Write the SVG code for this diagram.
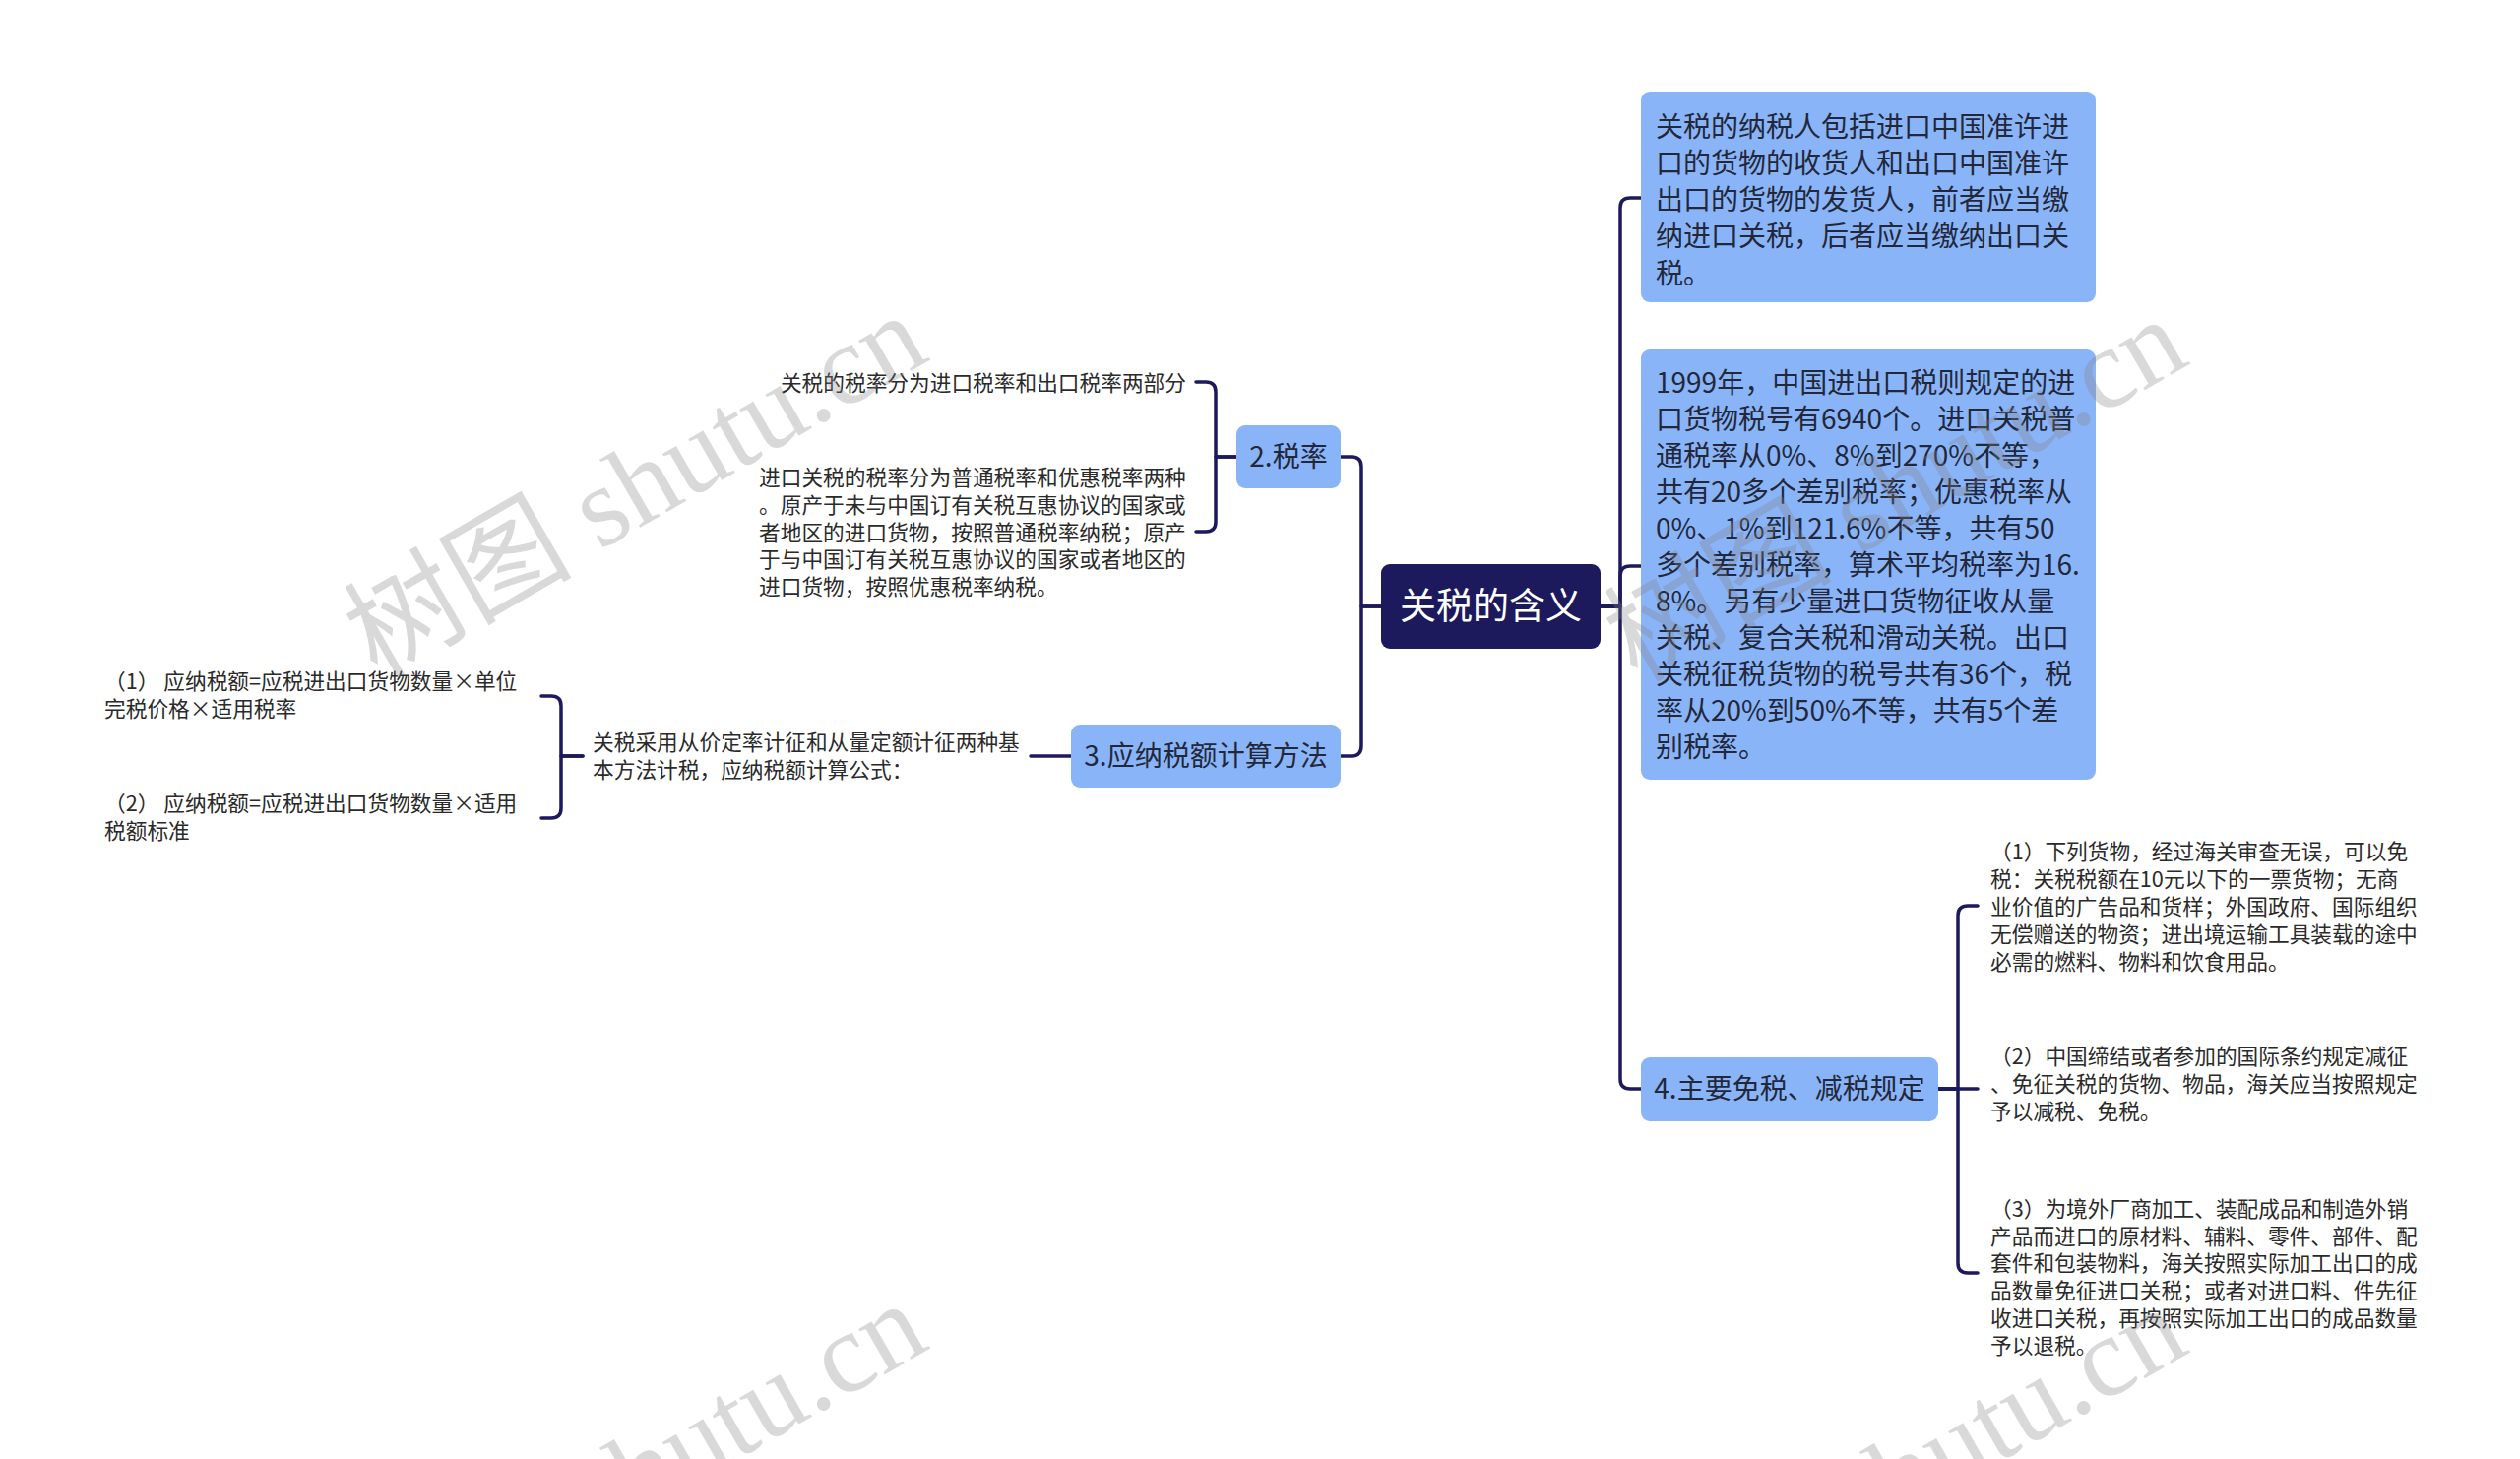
<svg xmlns="http://www.w3.org/2000/svg" width="2560" height="1482" viewBox="0 0 2560 1482">
<style>
.conn{fill:none;stroke:#1c1a5c;stroke-width:3.5;stroke-linecap:round;stroke-linejoin:round}
.box{fill:#8ab4f8}
.root{fill:#1c1a5c}
.t28{font-family:"Noto Sans CJK SC","Noto Sans",sans-serif;font-size:28px;fill:#22283a}
.t37{font-family:"Noto Sans CJK SC","Noto Sans",sans-serif;font-size:37px;fill:#ffffff}
.leaf{font-family:"Noto Sans CJK SC","Noto Sans",sans-serif;font-size:21.7px;fill:#2a2a2a}
.wm{font-family:"Liberation Serif","Noto Sans CJK SC",serif;font-size:116px;fill:#808080;fill-opacity:0.3}
</style>
<rect width="2560" height="1482" fill="#ffffff"/>
<g id="connectors">
<path class="conn" d="M1626,616 H1646 V211 Q1646,201 1656,201 H1667"/>
<path class="conn" d="M1626,616 H1646 V585 Q1646,575 1656,575 H1667"/>
<path class="conn" d="M1626,616 H1646 V1096 Q1646,1106 1656,1106 H1667"/>
<path class="conn" d="M1403,616 H1383 V474 Q1383,464 1373,464 H1362"/>
<path class="conn" d="M1403,616 H1383 V758 Q1383,768 1373,768 H1362"/>
<path class="conn" d="M1256,464 H1235 V398 Q1235,388 1225,388 H1215"/>
<path class="conn" d="M1256,464 H1235 V530 Q1235,540 1225,540 H1215"/>
<path class="conn" d="M1088,768 H1047"/>
<path class="conn" d="M592,768 H570 V717 Q570,707 560,707 H550"/>
<path class="conn" d="M592,768 H570 V821 Q570,831 560,831 H550"/>
<path class="conn" d="M1969,1106 H1989 V930 Q1989,920 1999,920 H2009"/>
<path class="conn" d="M1969,1106 H2009"/>
<path class="conn" d="M1969,1106 H1989 V1283 Q1989,1293 1999,1293 H2009"/>
</g>
<g id="root">
<rect class="root" x="1403" y="573" width="223" height="86" rx="9"/>
<text class="t37" x="1514.5" y="629" text-anchor="middle">关税的含义</text>
</g>
<g id="n1">
<rect class="box" x="1667" y="93" width="462" height="214" rx="9"/>
<text class="t28"><tspan x="1682" y="138.5">关税的纳税人包括进口中国准许进</tspan><tspan x="1682" y="175.8">口的货物的收货人和出口中国准许</tspan><tspan x="1682" y="213">出口的货物的发货人，前者应当缴</tspan><tspan x="1682" y="250.3">纳进口关税，后者应当缴纳出口关</tspan><tspan x="1682" y="287.5">税。</tspan></text>
</g>
<g id="n2">
<rect class="box" x="1667" y="355" width="462" height="437" rx="9"/>
<text class="t28"><tspan x="1682" y="398.5">1999年，中国进出口税则规定的进</tspan><tspan x="1682" y="435.5">口货物税号有6940个。进口关税普</tspan><tspan x="1682" y="472.5">通税率从0%、8%到270%不等，</tspan><tspan x="1682" y="509.5">共有20多个差别税率；优惠税率从</tspan><tspan x="1682" y="546.5">0%、1%到121.6%不等，共有50</tspan><tspan x="1682" y="583.5">多个差别税率，算术平均税率为16.</tspan><tspan x="1682" y="620.5">8%。另有少量进口货物征收从量</tspan><tspan x="1682" y="657.5">关税、复合关税和滑动关税。出口</tspan><tspan x="1682" y="694.5">关税征税货物的税号共有36个，税</tspan><tspan x="1682" y="731.5">率从20%到50%不等，共有5个差</tspan><tspan x="1682" y="768.5">别税率。</tspan></text>
</g>
<g id="n4">
<rect class="box" x="1667" y="1074" width="302" height="65" rx="9"/>
<text class="t28" x="1818" y="1116" text-anchor="middle">4.主要免税、减税规定</text>
</g>
<g id="n4a">
<text class="leaf"><tspan x="2022" y="873">（1）下列货物，经过海关审查无误，可以免</tspan><tspan x="2022" y="901">税：关税税额在10元以下的一票货物；无商</tspan><tspan x="2022" y="929">业价值的广告品和货样；外国政府、国际组织</tspan><tspan x="2022" y="957">无偿赠送的物资；进出境运输工具装载的途中</tspan><tspan x="2022" y="985">必需的燃料、物料和饮食用品。</tspan></text>
</g>
<g id="n4b">
<text class="leaf"><tspan x="2022" y="1081">（2）中国缔结或者参加的国际条约规定减征</tspan><tspan x="2022" y="1109">、免征关税的货物、物品，海关应当按照规定</tspan><tspan x="2022" y="1137">予以减税、免税。</tspan></text>
</g>
<g id="n4c">
<text class="leaf"><tspan x="2022" y="1236">（3）为境外厂商加工、装配成品和制造外销</tspan><tspan x="2022" y="1264">产品而进口的原材料、辅料、零件、部件、配</tspan><tspan x="2022" y="1291">套件和包装物料，海关按照实际加工出口的成</tspan><tspan x="2022" y="1319">品数量免征进口关税；或者对进口料、件先征</tspan><tspan x="2022" y="1347">收进口关税，再按照实际加工出口的成品数量</tspan><tspan x="2022" y="1375">予以退税。</tspan></text>
</g>
<g id="n2rate">
<rect class="box" x="1256" y="432" width="106" height="64" rx="9"/>
<text class="t28" x="1309" y="474" text-anchor="middle">2.税率</text>
</g>
<g id="n2a">
<text class="leaf" x="1205" y="397" text-anchor="end">关税的税率分为进口税率和出口税率两部分</text>
</g>
<g id="n2b">
<text class="leaf"><tspan x="771" y="493">进口关税的税率分为普通税率和优惠税率两种</tspan><tspan x="771" y="521">。原产于未与中国订有关税互惠协议的国家或</tspan><tspan x="771" y="549">者地区的进口货物，按照普通税率纳税；原产</tspan><tspan x="771" y="576">于与中国订有关税互惠协议的国家或者地区的</tspan><tspan x="771" y="604">进口货物，按照优惠税率纳税。</tspan></text>
</g>
<g id="n3">
<rect class="box" x="1088" y="736" width="274" height="64" rx="9"/>
<text class="t28" x="1225" y="778" text-anchor="middle">3.应纳税额计算方法</text>
</g>
<g id="n3a">
<text class="leaf"><tspan x="602" y="762">关税采用从价定率计征和从量定额计征两种基</tspan><tspan x="602" y="790">本方法计税，应纳税额计算公式：</tspan></text>
</g>
<g id="n3a1">
<text class="leaf"><tspan x="106" y="700">（1） 应纳税额=应税进出口货物数量×单位</tspan><tspan x="106" y="728">完税价格×适用税率</tspan></text>
</g>
<g id="n3a2">
<text class="leaf"><tspan x="106" y="824">（2） 应纳税额=应税进出口货物数量×适用</tspan><tspan x="106" y="852">税额标准</tspan></text>
</g>
<g id="watermarks">
<text class="wm" x="383" y="690" transform="rotate(-30 383 690)">树图 shutu.cn</text>
<text class="wm" x="1663" y="694" transform="rotate(-30 1663 694)">树图 shutu.cn</text>
<text class="wm" x="383" y="1694" transform="rotate(-30 383 1694)">树图 shutu.cn</text>
<text class="wm" x="1663" y="1698" transform="rotate(-30 1663 1698)">树图 shutu.cn</text>
</g>
</svg>
